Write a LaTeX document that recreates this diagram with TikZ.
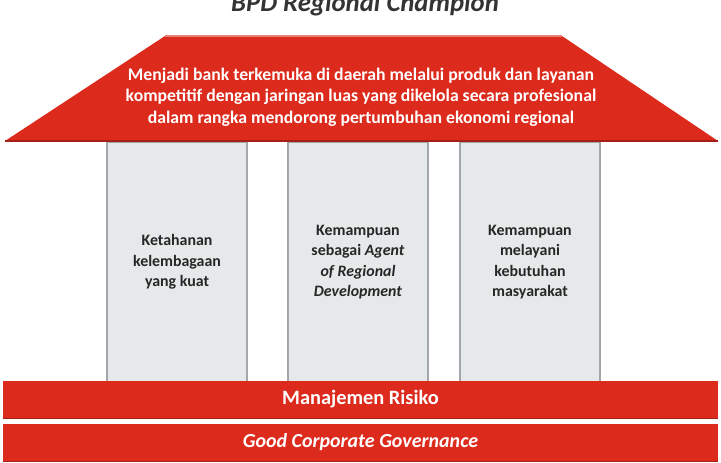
\documentclass[tikz,border=0pt]{standalone}
\usepackage{fontspec}
\setmainfont{Carlito}
\definecolor{roofred}{HTML}{DC2B1C}
\definecolor{pillargray}{HTML}{E6E9EA}
\definecolor{pillarline}{HTML}{A3A7A9}
\definecolor{titlegray}{HTML}{333333}
\begin{document}
\begin{tikzpicture}[x=0.025cm,y=-0.025cm,
    pillar/.style={draw=pillarline,fill=pillargray,line width=0.8pt,minimum width=3.5cm,minimum height=6cm,align=center,font=\fontsize{11.3}{14.6}\selectfont\bfseries,text=black!85},
    band/.style={fill=roofred,minimum width=17.875cm,minimum height=0.925cm,text=white,font=\fontsize{14.5}{16}\selectfont\bfseries},
    bandedge/.style={draw=roofred!75!black,line width=1pt}]
            \useasboundingbox (0,0) rectangle (721,462);
            \def\roofy{141}
            \def\roofx{36}

            \node[titlegray,font=\fontsize{19}{20}\selectfont\bfseries\itshape,anchor=base] (title) at (365,11) {BPD Regional Champion};

            % pilar
            \node[pillar] (p1) at (177,262) {Ketahanan\\kelembagaan\\yang kuat};
            \node[pillar] (p2) at (358,262) {Kemampuan\\sebagai \textit{Agent}\\\textit{of Regional}\\\textit{Development}};
            \node[pillar] (p3) at (530,262) {Kemampuan\\melayani\\kebutuhan\\masyarakat};

            % atap
            \fill[roofred] (5,\roofy)--(165,\roofx)--(562,\roofx)--(718,\roofy)--cycle;
            \draw[roofred!60!white,line width=1pt] (165,\roofx)--(562,\roofx);
            \draw[bandedge] (5,\roofy)--(718,\roofy);
            \node[text=white,align=center,font=\fontsize{12.6}{15.3}\selectfont\bfseries] (visi) at (361,97)
                {Menjadi bank terkemuka di daerah melalui produk dan layanan\\kompetitif dengan jaringan luas yang dikelola secara profesional\\dalam rangka mendorong pertumbuhan ekonomi regional};

            % fondasi
            \node[band] (risk) at (360.5,399.5) {Manajemen Risiko};
            \draw[bandedge] (risk.south west)--(risk.south east);
            \node[band,font=\fontsize{14.2}{16}\selectfont\bfseries\itshape] (gcg) at (360.5,442.5) {Good Corporate Governance};
            \draw[bandedge] (gcg.south west)--(gcg.south east);
        \end{tikzpicture}
\end{document}
